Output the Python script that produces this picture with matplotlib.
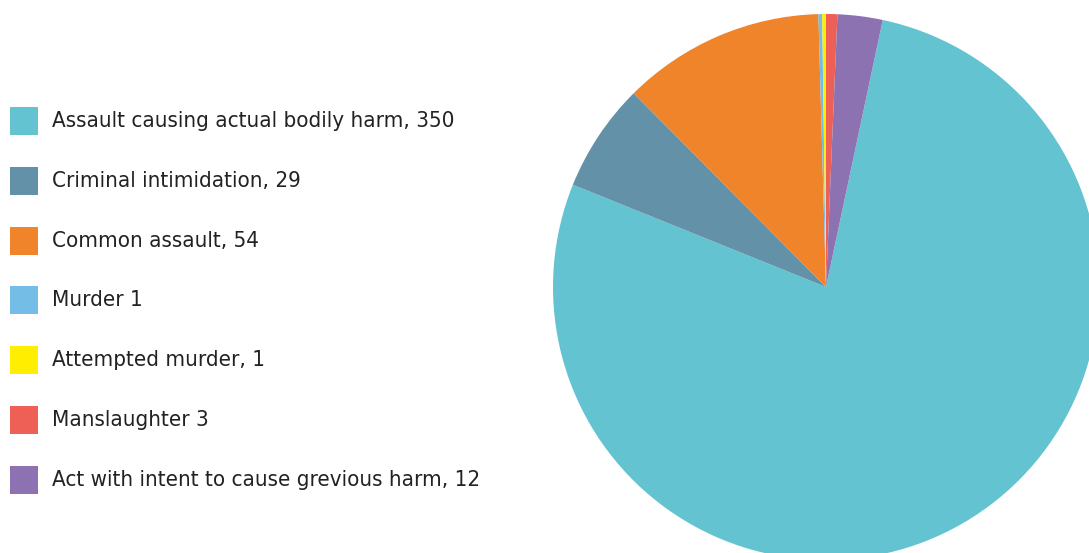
import matplotlib
matplotlib.use("Agg")
import matplotlib.pyplot as plt
from matplotlib.patches import Rectangle

# Offence categories and counts
categories = ['Assault causing actual bodily harm,', 'Criminal intimidation,', 'Common assault,',
              'Murder', 'Attempted murder,', 'Manslaughter', 'Act with intent to cause grevious harm,']
counts = [350, 29, 54, 1, 1, 3, 12]
colors = ['#63C3D0', '#6391A8', '#F0842B', '#74BDE6', '#FFEE00', '#EE6055', '#8D72B1']

W, H = 1089, 553
fig = plt.figure(figsize=(W / 100, H / 100), dpi=100)
ax = fig.add_axes([0, 0, 1, 1])

# Pie, clockwise in legend order
ax.pie(counts, colors=colors, center=(826, H - 287), radius=273,
       startangle=78, counterclock=False, frame=True,
       wedgeprops={'linewidth': 0})
ax.set_xlim(0, W)
ax.set_ylim(0, H)
ax.set_aspect('equal')
ax.axis('off')

# Legend drawn as squares plus labels
for i, (name, n, c) in enumerate(zip(categories, counts, colors)):
    yc = H - (121 + i * 59.8)
    ax.add_patch(Rectangle((10, yc - 14), 28, 28, facecolor=c, edgecolor='none'))
    ax.text(52, yc, f'{name} {n}', va='center', ha='left', fontsize=16,
            family='DejaVu Sans', fontstretch='condensed', color='#222222')

fig.savefig('out.png', dpi=100)
